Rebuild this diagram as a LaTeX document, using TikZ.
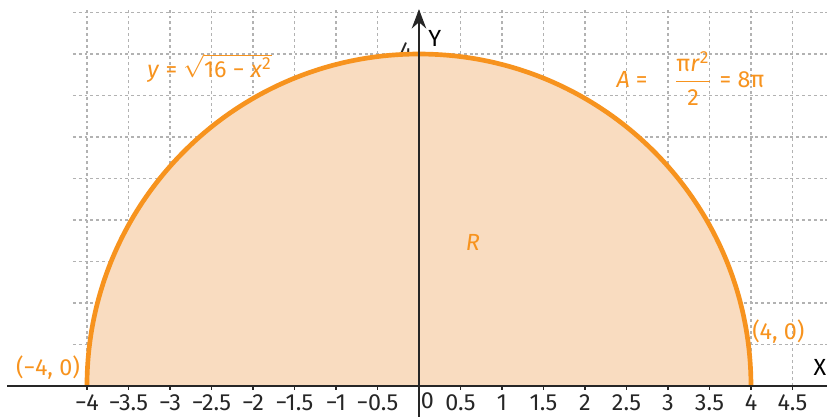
\documentclass[tikz,border=0pt]{standalone}
\usepackage{amsmath}
\usepackage{fontspec}
\setmainfont{Fira Sans}
\usetikzlibrary{arrows.meta}
\definecolor{curveorange}{HTML}{F7931E}
\definecolor{regionfill}{HTML}{F9DCC0}

\begin{document}
\begin{tikzpicture}[>=Stealth, every node/.style={font=\fontsize{8}{9.5}\selectfont},
  gridline/.style={black!30, dash pattern=on 1pt off 1pt, line width=0.4pt},
  axisline/.style={black!85, line width=0.8pt},
  ticklabel/.style={below, text=black!85, inner sep=1.5pt},
  orangelabel/.style={text=curveorange}]
\useasboundingbox (-5.048,-0.373) rectangle (4.916,4.651);
\coordinate (xleft)  at (-4.96,0);
\coordinate (xright) at (4.916,0);
\coordinate (ybot)   at (0,-0.373);
\coordinate (ytop)   at (0,4.54);
\coordinate (west)   at (-4,0);
\coordinate (east)   at (4,0);
% grid
\foreach \x in {-4,-3.5,...,4.5} \draw[gridline] (\x,0) -- (\x,4.56);
\foreach \y in {0.5,1,...,4.5} \draw[gridline] (-4.17,\y) -- (4.916,\y);
\node[left, text=black!85, inner sep=1pt] (four) at (-0.04,4.04) {4};
% region R
\fill[regionfill] (west) arc (180:0:4) -- (east) -- cycle;
\draw[curveorange, line width=1.6pt] (west) arc (180:0:4);
% axes
\draw[axisline] (xleft) -- (xright);
\draw[axisline, ->] (ybot) -- (ytop);
\foreach \x/\t in {-4/−4, -3.5/−3.5, -3/−3, -2.5/−2.5, -2/−2, -1.5/−1.5, -1/−1, -0.5/−0.5,
                   0.5/0.5, 1/1, 1.5/1.5, 2/2, 2.5/2.5, 3/3, 3.5/3.5, 4/4, 4.5/4.5} {
  \draw[axisline, line width=0.6pt] (\x,0) -- (\x,-0.05);
  \node[ticklabel] (tick\x) at (\x,-0.05) {\t};
}
\node[ticklabel] (origin) at (0.1,-0.02) {0};
\node (xlabel) at (4.83,0.22) {X};
\node (ylabel) at (0.19,4.19) {Y};
% labels
\node[orangelabel] (curvelabel) at (-2.52,3.83)
  {\textit{y} = $\sqrt{\mbox{16 − \textit{x}\textsuperscript{2}}}$};
\node[orangelabel] (arealabel) at (3.27,3.71)
  {\textit{A} = \;\; $\dfrac{\mbox{π\textit{r}\textsuperscript{2}}}{\mbox{2}}$ = 8π};
\node[orangelabel] (rlabel) at (0.65,1.73) {\textit{R}};
\node[orangelabel] (westlabel) at (-4.47,0.22) {(−4, 0)};
\node[orangelabel] (eastlabel) at (4.33,0.66) {(4, 0)};
\end{tikzpicture}
\end{document}
